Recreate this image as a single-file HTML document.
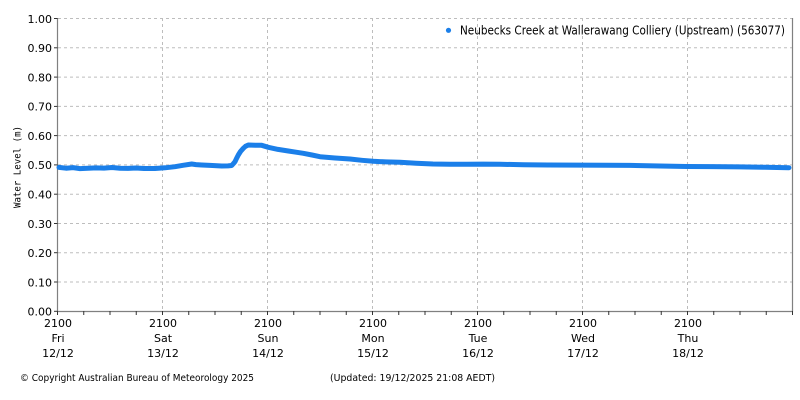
<!DOCTYPE html>
<html><head><meta charset="utf-8"><style>
html,body{margin:0;padding:0;background:#fff;}
svg{display:block;}
text{font-family:"DejaVu Sans","Liberation Sans",sans-serif;fill:#000;}
</style></head><body>
<svg width="800" height="400" viewBox="0 0 800 400" xmlns="http://www.w3.org/2000/svg">
<g stroke="#bdbdbd" stroke-width="1" stroke-dasharray="3,3" fill="none">
<line x1="58" y1="18.5" x2="792" y2="18.5"/>
<line x1="58" y1="47.8" x2="792" y2="47.8"/>
<line x1="58" y1="77.1" x2="792" y2="77.1"/>
<line x1="58" y1="106.4" x2="792" y2="106.4"/>
<line x1="58" y1="135.6" x2="792" y2="135.6"/>
<line x1="58" y1="164.9" x2="792" y2="164.9"/>
<line x1="58" y1="194.2" x2="792" y2="194.2"/>
<line x1="58" y1="223.5" x2="792" y2="223.5"/>
<line x1="58" y1="252.7" x2="792" y2="252.7"/>
<line x1="58" y1="282" x2="792" y2="282"/>
<line x1="162.5" y1="18" x2="162.5" y2="311"/>
<line x1="267.5" y1="18" x2="267.5" y2="311"/>
<line x1="372.5" y1="18" x2="372.5" y2="311"/>
<line x1="477.5" y1="18" x2="477.5" y2="311"/>
<line x1="582.5" y1="18" x2="582.5" y2="311"/>
<line x1="687.5" y1="18" x2="687.5" y2="311"/>
</g>
<g stroke="#808080" stroke-width="1.2" fill="none">
<line x1="57.5" y1="18" x2="57.5" y2="311.5"/>
<line x1="57.5" y1="311.5" x2="793" y2="311.5"/>
<line x1="792.5" y1="18" x2="792.5" y2="311.5"/>
</g>
<g stroke="#333" stroke-width="1" fill="none">
<line x1="54" y1="18.5" x2="57.5" y2="18.5"/>
<line x1="54" y1="47.8" x2="57.5" y2="47.8"/>
<line x1="54" y1="77.1" x2="57.5" y2="77.1"/>
<line x1="54" y1="106.4" x2="57.5" y2="106.4"/>
<line x1="54" y1="135.6" x2="57.5" y2="135.6"/>
<line x1="54" y1="164.9" x2="57.5" y2="164.9"/>
<line x1="54" y1="194.2" x2="57.5" y2="194.2"/>
<line x1="54" y1="223.5" x2="57.5" y2="223.5"/>
<line x1="54" y1="252.7" x2="57.5" y2="252.7"/>
<line x1="54" y1="282" x2="57.5" y2="282"/>
<line x1="54" y1="311.3" x2="57.5" y2="311.3"/>
<line x1="57.5" y1="311" x2="57.5" y2="315"/>
<line x1="83.75" y1="311" x2="83.75" y2="315"/>
<line x1="110" y1="311" x2="110" y2="315"/>
<line x1="136.25" y1="311" x2="136.25" y2="315"/>
<line x1="162.5" y1="311" x2="162.5" y2="315"/>
<line x1="188.75" y1="311" x2="188.75" y2="315"/>
<line x1="215" y1="311" x2="215" y2="315"/>
<line x1="241.25" y1="311" x2="241.25" y2="315"/>
<line x1="267.5" y1="311" x2="267.5" y2="315"/>
<line x1="293.75" y1="311" x2="293.75" y2="315"/>
<line x1="320" y1="311" x2="320" y2="315"/>
<line x1="346.25" y1="311" x2="346.25" y2="315"/>
<line x1="372.5" y1="311" x2="372.5" y2="315"/>
<line x1="398.75" y1="311" x2="398.75" y2="315"/>
<line x1="425" y1="311" x2="425" y2="315"/>
<line x1="451.25" y1="311" x2="451.25" y2="315"/>
<line x1="477.5" y1="311" x2="477.5" y2="315"/>
<line x1="503.75" y1="311" x2="503.75" y2="315"/>
<line x1="530" y1="311" x2="530" y2="315"/>
<line x1="556.25" y1="311" x2="556.25" y2="315"/>
<line x1="582.5" y1="311" x2="582.5" y2="315"/>
<line x1="608.75" y1="311" x2="608.75" y2="315"/>
<line x1="635" y1="311" x2="635" y2="315"/>
<line x1="661.25" y1="311" x2="661.25" y2="315"/>
<line x1="687.5" y1="311" x2="687.5" y2="315"/>
<line x1="713.75" y1="311" x2="713.75" y2="315"/>
<line x1="740" y1="311" x2="740" y2="315"/>
<line x1="766.25" y1="311" x2="766.25" y2="315"/>
<line x1="792.5" y1="311" x2="792.5" y2="315"/>
</g>
<polyline fill="none" stroke="#1b7fe9" stroke-width="5" stroke-linejoin="round" stroke-linecap="round" points="
59,167.4 66,168.2 73,167.6 80,168.6 88,168.3 96,167.9 104,168.1 112,167.5 120,168.2 128,168.4 136,168 144,168.5 155,168.5 165,167.8 175,166.7 183,165.3 191.7,164 196,164.6 201.7,165 210,165.4 221.7,166 228,165.9 231.7,165.5 233.5,163.5 235,161.7 236.5,158.5 238.3,155 240.5,151.5 243.3,148.3 245.5,146.3 248.3,145 255,145.2 261.7,145.3 265,146.3 268.3,147.3 278,149.4 288.3,151 296,152.2 303.3,153.3 312,155 320,156.7 335,158 350,159 362,160.3 373.3,161.3 386,161.9 400,162.3 416,163.2 433,164 450,164.2 466.7,164.3 483,164.1 500,164.3 524,164.7 548,165 578,165.1 606.7,165.3 630,165.4 660,166 686.7,166.5 712,166.6 740,166.9 765,167.3 789,167.7"/>
<circle cx="448.5" cy="30.3" r="2.6" fill="#1b7fe9"/>
<text x="460" y="34.3" font-size="12" textLength="325" lengthAdjust="spacingAndGlyphs">Neubecks Creek at Wallerawang Colliery (Upstream) (563077)</text>
<g font-size="11" text-anchor="end">
<text x="52" y="22.8">1.00</text>
<text x="52" y="52.1">0.90</text>
<text x="52" y="81.4">0.80</text>
<text x="52" y="110.7">0.70</text>
<text x="52" y="139.9">0.60</text>
<text x="52" y="169.2">0.50</text>
<text x="52" y="198.5">0.40</text>
<text x="52" y="227.8">0.30</text>
<text x="52" y="257">0.20</text>
<text x="52" y="286.3">0.10</text>
<text x="52" y="315.6">0.00</text>
</g>
<text transform="translate(20.5,167) rotate(-90)" font-size="10" text-anchor="middle" style="font-family:'DejaVu Sans Mono','Liberation Mono',monospace" textLength="82" lengthAdjust="spacingAndGlyphs">Water Level (m)</text>
<g font-size="11" text-anchor="middle">
<text x="58" y="327">2100</text><text x="58" y="342">Fri</text><text x="58" y="357">12/12</text>
<text x="163" y="327">2100</text><text x="163" y="342">Sat</text><text x="163" y="357">13/12</text>
<text x="268" y="327">2100</text><text x="268" y="342">Sun</text><text x="268" y="357">14/12</text>
<text x="373" y="327">2100</text><text x="373" y="342">Mon</text><text x="373" y="357">15/12</text>
<text x="478" y="327">2100</text><text x="478" y="342">Tue</text><text x="478" y="357">16/12</text>
<text x="583" y="327">2100</text><text x="583" y="342">Wed</text><text x="583" y="357">17/12</text>
<text x="688" y="327">2100</text><text x="688" y="342">Thu</text><text x="688" y="357">18/12</text>
</g>
<text x="20" y="381" font-size="10" textLength="234" lengthAdjust="spacingAndGlyphs">© Copyright Australian Bureau of Meteorology 2025</text>
<text x="330" y="381" font-size="10" textLength="165" lengthAdjust="spacingAndGlyphs">(Updated: 19/12/2025 21:08 AEDT)</text>
</svg>
</body></html>
